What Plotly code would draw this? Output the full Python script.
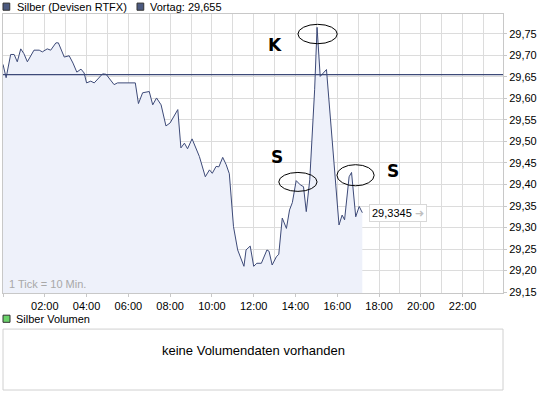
import plotly.graph_objects as go

DAY = "2011-05-02 "

times = ["00:00","00:09","00:22","00:32","00:41","00:51","01:00","01:10","01:29","01:44",
         "01:53","02:07","02:17","02:32","02:39","02:56","03:10","03:21","03:32","03:44",
         "03:53","04:00","04:12","04:22","04:46","04:56","05:19","05:29","06:20","06:29",
         "06:41","07:00","07:10","07:21","07:34","07:48","08:00","08:22","08:31","08:41",
         "08:50","09:03","09:24","09:41","09:53","10:01","10:12","10:20","10:31","10:41",
         "10:50","11:02","11:14","11:24","11:32","11:38","11:50","12:00","12:09","12:22",
         "12:38","12:44","12:53","13:05","13:12","13:22","13:34","13:43","13:51","14:02",
         "14:14","14:23","14:31","14:41","14:55","15:02","15:11","15:29","16:05","16:14",
         "16:21","16:34","16:41","16:53","17:03","17:12"]
prices = [29.679,29.648,29.702,29.702,29.685,29.715,29.704,29.685,29.712,29.712,
          29.708,29.715,29.712,29.729,29.729,29.696,29.699,29.682,29.661,29.668,
          29.659,29.636,29.640,29.636,29.657,29.656,29.632,29.636,29.636,29.588,
          29.613,29.616,29.585,29.601,29.585,29.536,29.543,29.574,29.485,29.496,
          29.483,29.506,29.465,29.418,29.434,29.426,29.442,29.441,29.463,29.446,
          29.425,29.302,29.248,29.225,29.210,29.248,29.257,29.210,29.217,29.217,
          29.248,29.245,29.213,29.232,29.238,29.322,29.298,29.341,29.358,29.409,
          29.399,29.395,29.337,29.411,29.620,29.765,29.651,29.667,29.306,29.329,
          29.318,29.418,29.428,29.325,29.349,29.3345]
vortag = 29.655
last_label = "29,3345"
y_ticks = [29.15,29.20,29.25,29.30,29.35,29.40,29.45,29.50,29.55,29.60,29.65,29.70,29.75]

x = [DAY + t for t in times]

LINE = "#3d4a78"
GRID = "#dcdcdc"
FONT = "Liberation Sans"

fig = go.Figure()
fig.add_trace(go.Scatter(x=x, y=prices, mode="lines", line=dict(color=LINE, width=1),
                         fill="tozeroy", fillcolor="#eef1fa", hoverinfo="skip"))

fig.add_shape(type="line", xref="paper", x0=0, x1=1, yref="y", y0=vortag, y1=vortag,
              line=dict(color=LINE, width=1.2))

# ellipses
for (a, b, c, d) in [("14:07", "16:00", 29.727, 29.772),
                     ("13:12", "15:02", 29.384, 29.428),
                     ("15:59", "17:46", 29.397, 29.446)]:
    fig.add_shape(type="circle", xref="x", yref="y", x0=DAY + a, x1=DAY + b, y0=c, y1=d,
                  line=dict(color="black", width=1))

for (t, v, s) in [("13:00", 29.725, "K"), ("13:06", 29.464, "S"), ("18:40", 29.432, "S")]:
    fig.add_annotation(x=DAY + t, y=v, text="<b>" + s + "</b>", showarrow=False,
                       font=dict(family="DejaVu Sans", size=17, color="black"))

fig.add_annotation(x=DAY + "17:30", y=prices[-1], xanchor="left",
                   text=last_label + " <span style='color:#c0c0c0'>➜</span>", showarrow=False,
                   bgcolor="white", bordercolor="#d8d8d8", borderwidth=1, borderpad=2,
                   font=dict(family=FONT, size=11, color="black"))

fig.add_annotation(xref="paper", yref="y", x=0.008, y=29.151, xanchor="left", yanchor="bottom",
                   text="1 Tick = 10 Min.", showarrow=False,
                   font=dict(family=FONT, size=11, color="#a8a8a8"))

# Top legend
fig.add_shape(type="rect", xref="paper", yref="paper", x0=0, x1=0.0135, y0=1.01, y1=1.029,
              fillcolor="#4c5a80", line=dict(color="#333", width=1))
fig.add_annotation(xref="paper", yref="paper", x=0.024, y=1.019, xanchor="left", yanchor="middle",
                   text="Silber (Devisen RTFX)", showarrow=False, font=dict(family=FONT, size=11, color="black"))
fig.add_shape(type="rect", xref="paper", yref="paper", x0=0.268, x1=0.2815, y0=1.01, y1=1.029,
              fillcolor="#4c5a80", line=dict(color="#333", width=1))
fig.add_annotation(xref="paper", yref="paper", x=0.29, y=1.019, xanchor="left", yanchor="middle",
                   text="Vortag: " + f"{vortag:.3f}".replace(".", ","), showarrow=False,
                   font=dict(family=FONT, size=11, color="black"))

# Volume panel
fig.add_shape(type="rect", xref="paper", yref="paper", x0=0.0, x1=0.014, y0=0.18, y1=0.199,
              fillcolor="#6bd36b", line=dict(color="#333", width=1))
fig.add_annotation(xref="paper", yref="paper", x=0.022, y=0.19, xanchor="left", yanchor="middle",
                   text="Silber Volumen", showarrow=False, font=dict(family=FONT, size=11, color="black"))
fig.add_shape(type="rect", xref="paper", yref="paper", x0=0, x1=1, y0=0, y1=0.162,
              fillcolor="white", line=dict(color="#d0d0d0", width=1))
fig.add_annotation(xref="paper", yref="paper", x=0.5, y=0.081, text="keine Volumendaten vorhanden",
                   showarrow=False, font=dict(family=FONT, size=13, color="black"))

fig.update_layout(
    width=545, height=398, margin=dict(l=3, r=42, t=14, b=8),
    paper_bgcolor="white", plot_bgcolor="white", showlegend=False,
    separators=",.",
    font=dict(family=FONT, size=11, color="black"),
    xaxis=dict(type="date", range=[DAY + "00:00", DAY + "23:56"],
               dtick=7200000, tick0=DAY + "00:00", tickformat="%H:%M",
               showgrid=True, gridcolor=GRID, gridwidth=1,
               minor=dict(dtick=3600000, showgrid=True, gridcolor=GRID, gridwidth=1),
               ticks="outside", ticklen=3, tickcolor="#c8c8c8",
               showline=True, linecolor="#c8c8c8", mirror=True, zeroline=False,
               tickfont=dict(family=FONT, size=11), anchor="y"),
    yaxis=dict(domain=[0.258, 1], side="right", range=[29.148, 29.796],
               tickvals=y_ticks, tickformat=".2f",
               showgrid=True, gridcolor=GRID, gridwidth=1,
               ticks="outside", ticklen=3, tickcolor="#c8c8c8",
               showline=True, linecolor="#c8c8c8", mirror=True, zeroline=False,
               tickfont=dict(family=FONT, size=11)),
)

fig.write_html("out.html", config={"displayModeBar": False},
               post_script="document.body.style.margin='0';")
